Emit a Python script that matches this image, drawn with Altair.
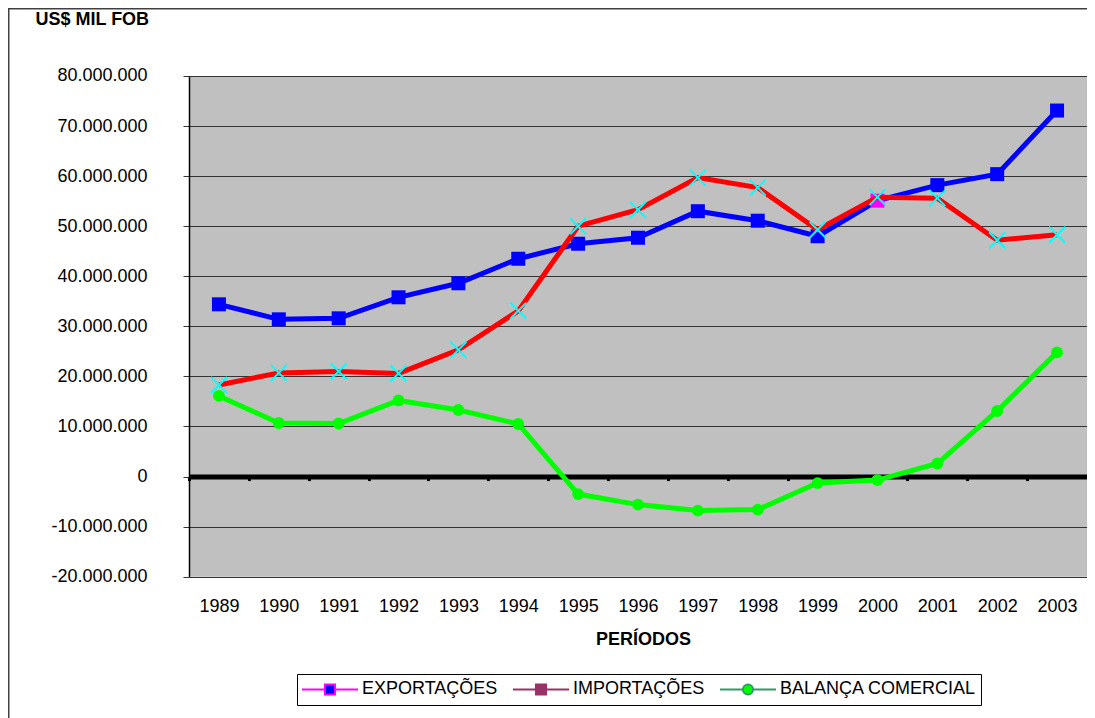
import altair as alt
import pandas as pd

# ---- data (US$ mil FOB) ----
anos = [1989, 1990, 1991, 1992, 1993, 1994, 1995, 1996, 1997, 1998, 1999, 2000, 2001, 2002, 2003]
exportacoes = [34.4e6, 31.4e6, 31.6e6, 35.8e6, 38.6e6, 43.5e6, 46.5e6, 47.7e6, 53.0e6, 51.1e6,
               48.0e6, 55.1e6, 58.2e6, 60.4e6, 73.1e6]
importacoes = [18.3e6, 20.7e6, 21.0e6, 20.6e6, 25.3e6, 33.1e6, 50.0e6, 53.3e6, 59.7e6, 57.7e6,
               49.3e6, 55.8e6, 55.6e6, 47.2e6, 48.3e6]
balanca = [16.1e6, 10.7e6, 10.6e6, 15.2e6, 13.3e6, 10.5e6, -3.5e6, -5.6e6, -6.8e6, -6.6e6,
           -1.3e6, -0.7e6, 2.6e6, 13.1e6, 24.8e6]
series = ["EXPORTAÇÕES", "IMPORTAÇÕES", "BALANÇA COMERCIAL"]
y_ticks = [-20000000, -10000000, 0, 10000000, 20000000, 30000000, 40000000,
           50000000, 60000000, 70000000, 80000000]

rows = []
for nome, vals in zip(series, [exportacoes, importacoes, balanca]):
    for a, v in zip(anos, vals):
        rows.append({"ano": a, "valor": v, "serie": nome})
df = pd.DataFrame(rows)

FONT = "Liberation Sans"
W, H = 898, 500.7
step = W / 15

x_enc = alt.X(
    "ano:Q",
    scale=alt.Scale(domain=[1988.5, 2003.5], nice=False, zero=False),
    axis=alt.Axis(
        values=anos, format="d", title="PERÍODOS", grid=False,
        offset=-(H * 0.2),
        domainColor="black", domainWidth=5,
        tickColor="black", tickWidth=3, tickSize=4,
        tickOffset=-step / 2, labelOffset=step / 2,
        labelBaseline="alphabetic", labelPadding=131,
        labelFontSize=18, labelColor="black", labelFlush=False, labelOverlap=False,
        titleFontSize=18, titleFontWeight="bold", titleColor="black",
        titleX=454, titleY=167.5, titleBaseline="alphabetic",
    ),
)
y_enc = alt.Y(
    "valor:Q",
    scale=alt.Scale(domain=[-20000000, 80000000], nice=False),
    axis=alt.Axis(
        values=y_ticks, format=",d", title="US$ MIL FOB",
        grid=True, gridColor="#333333", gridWidth=1.2,
        domainColor="black", domainWidth=1.5,
        tickColor="#333333", tickSize=6, labelPadding=36,
        labelFontSize=18, labelColor="black",
        titleAngle=0, titleAlign="left", titleBaseline="alphabetic",
        titleX=-154, titleY=-51, titleFontSize=18, titleFontWeight="bold",
        titleColor="black",
    ),
)

base = alt.Chart(df).encode(x=x_enc, y=y_enc)

# outer chart frame (only its top and left edges fall inside the window)
frame_df = pd.DataFrame({"k": [0]})
frame_top = alt.Chart(frame_df).mark_rule(stroke="#404040", strokeWidth=1.5).encode(
    x=alt.value(-181), x2=alt.value(W + 10), y=alt.value(-67.25))
frame_left = alt.Chart(frame_df).mark_rule(stroke="#404040", strokeWidth=1.5).encode(
    x=alt.value(-180.25), y=alt.value(-68), y2=alt.value(H + 160))

exp_line = base.transform_filter(alt.datum.serie == series[0]).mark_line(
    color="#0000FF", strokeWidth=5)
exp_pts = base.transform_filter(alt.datum.serie == series[0]).mark_point(
    shape="square", filled=True, size=196, opacity=1
).encode(color=alt.condition(alt.datum.ano == 2000, alt.value("#FF00FF"), alt.value("#0000FF")))

imp_line = base.transform_filter(alt.datum.serie == series[1]).mark_line(
    color="#FF0000", strokeWidth=5)
imp_pts = base.transform_filter(alt.datum.serie == series[1]).mark_point(
    shape="M-1,-1L1,1M-1,1L1,-1", filled=False, size=256, opacity=1,
    stroke="#00FFFF", strokeWidth=2)

bal_line = base.transform_filter(alt.datum.serie == series[2]).mark_line(
    color="#00FF00", strokeWidth=5)
bal_pts = base.transform_filter(alt.datum.serie == series[2]).mark_point(
    shape="circle", filled=True, size=140, opacity=1, color="#00FF00")

# legend (Excel-like: line + marker)
leg_df = pd.DataFrame({"ano": [1989, 1989, 1989], "valor": [1e9, 1e9, 1e9], "legenda": series})
leg_shapes = [
    "M-1,0H-0.18M0.18,0H1M-0.18,-0.18H0.18V0.18H-0.18Z",
    "M-1,0H-0.18M0.18,0H1M-0.18,-0.18H0.18V0.18H-0.18Z",
    "M-1,0H-0.18M0.18,0H1M-0.18,0A0.18,0.18,0,1,0,0.18,0A0.18,0.18,0,1,0,-0.18,0Z",
]
leg_layer = alt.Chart(leg_df).mark_point(
    clip=True, filled=True, opacity=1, strokeWidth=2, size=3136
).encode(
    x=x_enc, y=y_enc,
    shape=alt.Shape("legenda:N", scale=alt.Scale(domain=series, range=leg_shapes),
                    legend=alt.Legend(title=None)),
    fill=alt.Fill("legenda:N", scale=alt.Scale(domain=series, range=["#0000FF", "#993366", "#00FF00"]),
                  legend=alt.Legend(title=None)),
    stroke=alt.Stroke("legenda:N", scale=alt.Scale(domain=series, range=["#FF00FF", "#993366", "#339966"]),
                      legend=alt.Legend(title=None)),
)

chart = alt.layer(
    frame_top, frame_left, exp_line, exp_pts, imp_line, imp_pts, bal_line, bal_pts, leg_layer
).properties(
    width=W, height=H,
    autosize=alt.AutoSizeParams(type="none"),
    padding={"left": 181, "top": 68, "right": 0, "bottom": 141},
).configure(
    font=FONT,
    locale={"number": {"decimal": ",", "thousands": ".", "grouping": [3],
                       "currency": ["", ""], "minus": "-"}},
).configure_view(
    fill="#C0C0C0", strokeWidth=0
).configure_legend(
    orient="none", legendX=108, legendY=598, direction="horizontal",
    symbolSize=3136, symbolStrokeWidth=2, clipHeight=23, padding=4,
    labelFontSize=18, labelOffset=3, columnPadding=14, labelColor="black",
    labelFont=FONT, labelLimit=0, strokeColor="black", fillColor="white", symbolOpacity=1,
)

chart.save("out.html", embed_options={"renderer": "svg", "actions": False})
